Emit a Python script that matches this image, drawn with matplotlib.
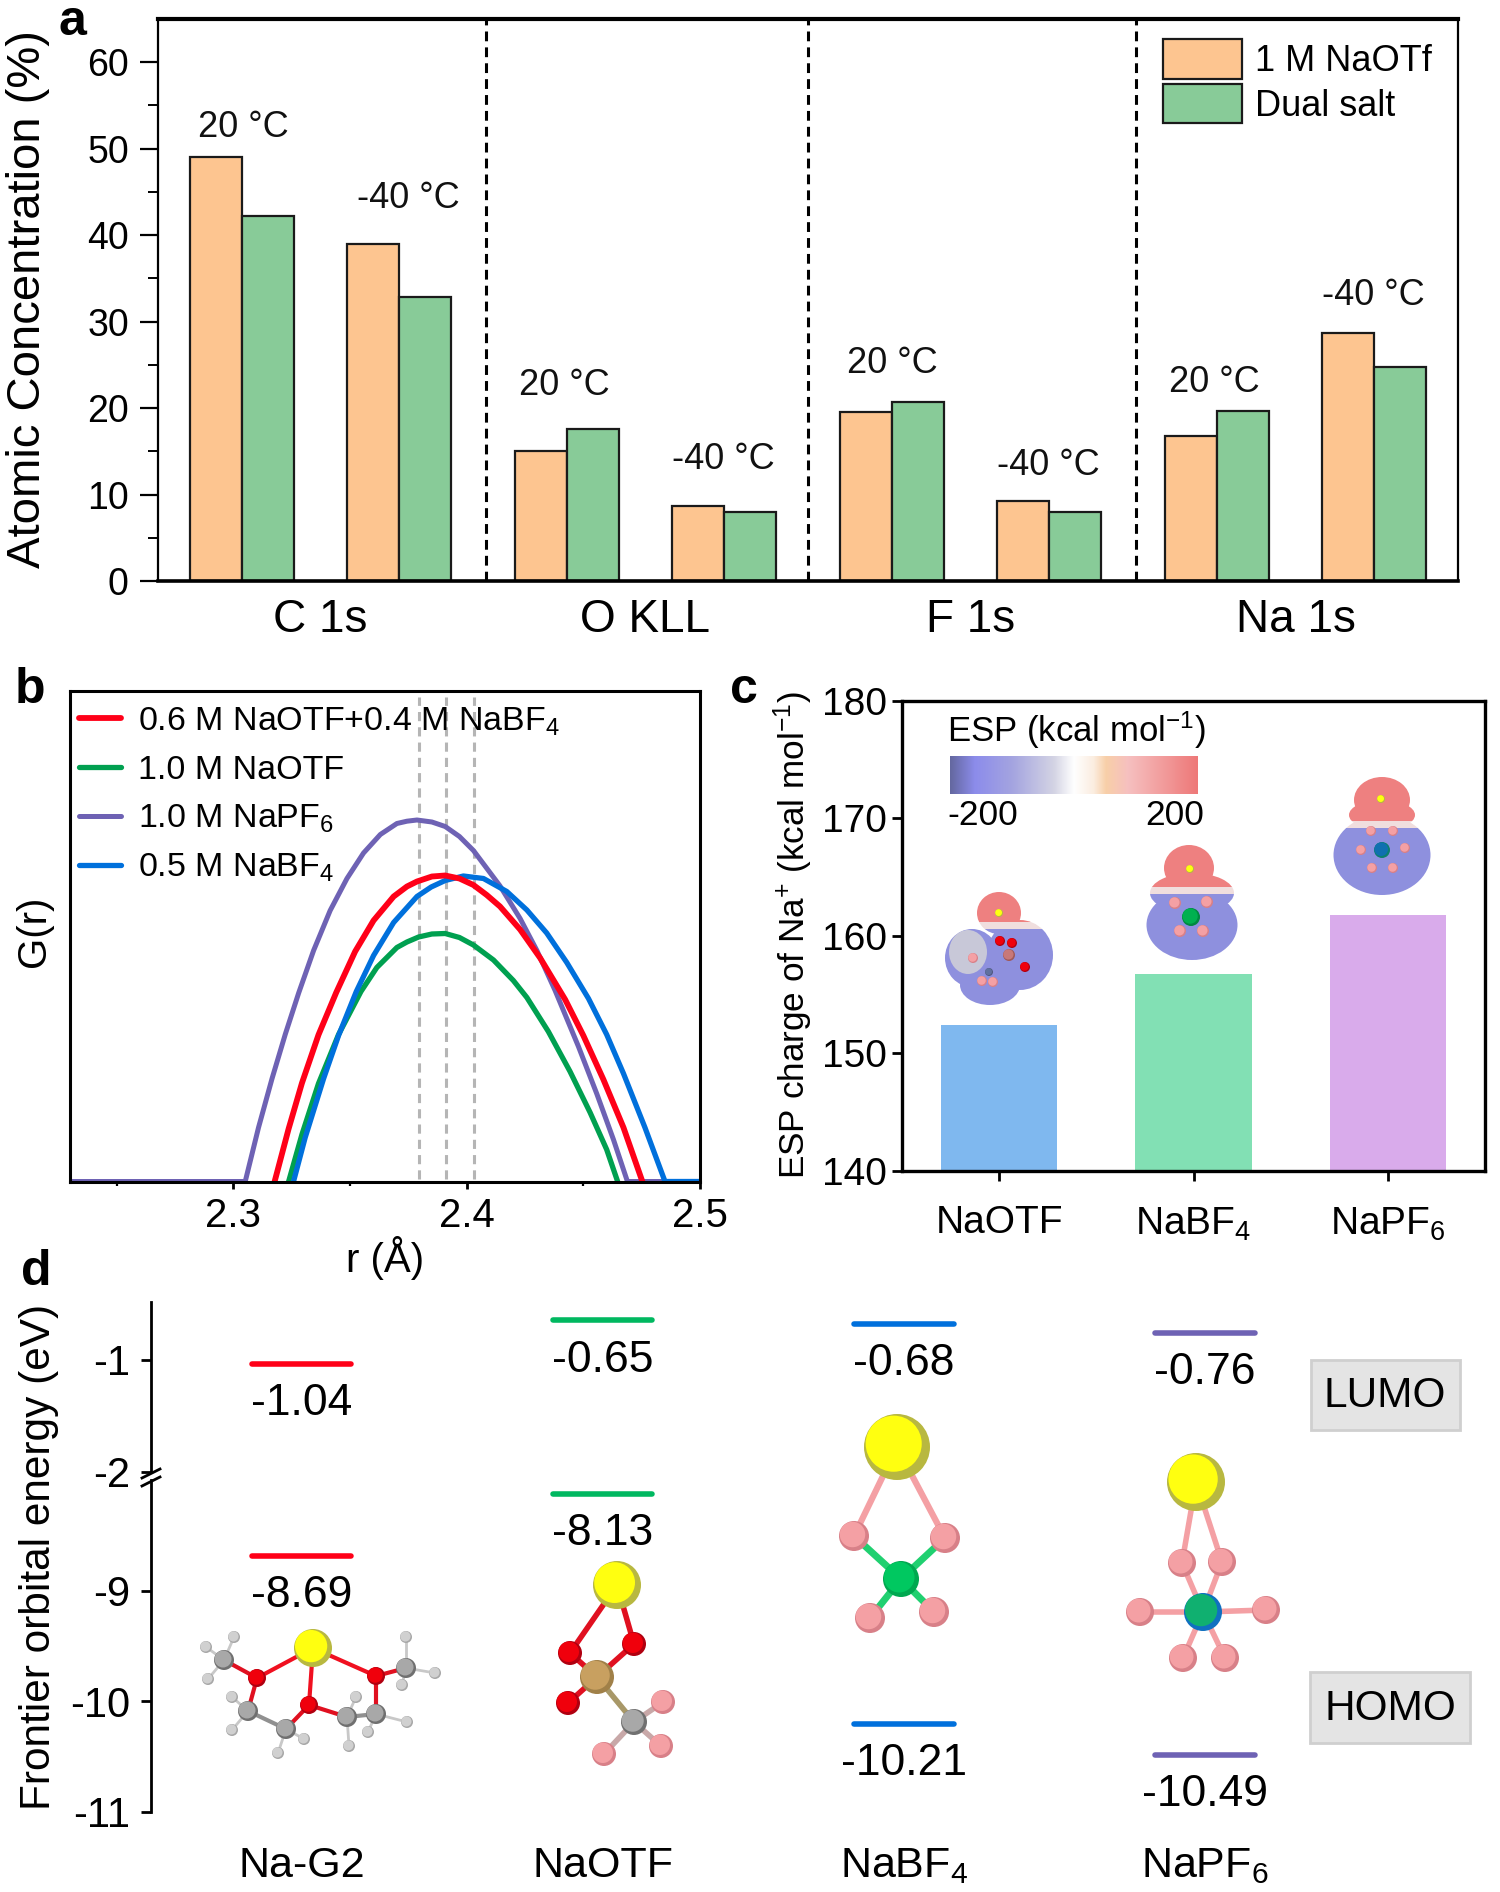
import matplotlib
matplotlib.use("Agg")
import matplotlib.pyplot as plt
import numpy as np
from matplotlib.colors import LinearSegmentedColormap
from matplotlib.patches import Circle, Ellipse, Patch, Rectangle

plt.rcParams['font.family'] = ['Liberation Sans', 'DejaVu Sans']
plt.rcParams['mathtext.fontset'] = 'custom'
plt.rcParams['mathtext.rm'] = 'Liberation Sans'
plt.rcParams['mathtext.default'] = 'regular'

# panel a
a_groups = ["C 1s", "O KLL", "F 1s", "Na 1s"]
a_nafotf = [49.0, 39.0, 15.0, 8.7, 19.5, 9.2, 16.8, 28.7]
a_dual = [42.2, 32.8, 17.6, 8.0, 20.7, 8.0, 19.7, 24.8]
a_temps = ["20 °C", "-40 °C"] * 4

# panel b
r_red = [2.3177, 2.3237, 2.3294, 2.3365, 2.3441, 2.3522, 2.3601, 2.3687, 2.3744, 2.3787, 2.3851, 2.3908, 2.3969, 2.4029, 2.4086, 2.4143, 2.4229, 2.4315, 2.4422, 2.45, 2.4586, 2.4672, 2.4753]
g_red = [0, 0.528, 0.984, 1.467, 1.89, 2.3, 2.61, 2.85, 2.95, 3.0, 3.05, 3.06, 3.03, 2.965, 2.865, 2.75, 2.52, 2.235, 1.82, 1.46, 1.02, 0.54, 0]
r_green = [2.3237, 2.3294, 2.3365, 2.3451, 2.3547, 2.3615, 2.3701, 2.3744, 2.3794, 2.3851, 2.3908, 2.3969, 2.4029, 2.4115, 2.42, 2.4258, 2.435, 2.4443, 2.4529, 2.46, 2.4647]
g_green = [0, 0.47, 0.98, 1.47, 1.9, 2.14, 2.34, 2.395, 2.445, 2.475, 2.48, 2.44, 2.365, 2.215, 2.01, 1.84, 1.5, 1.1, 0.69, 0.32, 0]
r_purple = [2.23, 2.3051, 2.3108, 2.3166, 2.3223, 2.328, 2.3344, 2.3415, 2.3487, 2.3558, 2.363, 2.3701, 2.3744, 2.3787, 2.3851, 2.3908, 2.3969, 2.4029, 2.4143, 2.4229, 2.4301, 2.4379, 2.4479, 2.4558, 2.4629, 2.4689, 2.5]
g_purple = [0, 0, 0.54, 1.03, 1.475, 1.885, 2.31, 2.71, 3.03, 3.285, 3.47, 3.58, 3.603, 3.615, 3.595, 3.55, 3.45, 3.31, 2.955, 2.63, 2.31, 1.91, 1.35, 0.875, 0.42, 0, 0]
r_blue = [2.3258, 2.3308, 2.3387, 2.3451, 2.3527, 2.3601, 2.3687, 2.3787, 2.3848, 2.3908, 2.3986, 2.4072, 2.4172, 2.4258, 2.4343, 2.4429, 2.4522, 2.46, 2.4672, 2.4764, 2.485, 2.5]
g_blue = [0, 0.44, 1.03, 1.46, 1.9, 2.26, 2.59, 2.85, 2.945, 3.01, 3.055, 3.03, 2.9, 2.715, 2.485, 2.19, 1.83, 1.47, 1.08, 0.54, 0, 0]
peak_r = [2.3795, 2.391, 2.403]

# panel c
c_salts = ["NaOTF", "NaBF$_4$", "NaPF$_6$"]
c_esp = [152.4, 156.7, 161.8]

# panel d
d_systems = ["Na-G2", "NaOTF", "NaBF$_4$", "NaPF$_6$"]
d_lumo = [-1.04, -0.65, -0.68, -0.76]
d_homo = [-8.69, -8.13, -10.21, -10.49]

W, H = 1500, 1892
fig = plt.figure(figsize=(W / 100, H / 100), dpi=100)


def px_axes(left, top, right, bottom):
    return fig.add_axes([left / W, 1 - bottom / H, (right - left) / W, (bottom - top) / H])


# ---------- a
ax = px_axes(158, 19, 1458, 581)
x_pos = []
for g in range(1, 5):
    x_pos += [g - 0.241, g + 0.241]
x_pos = np.array(x_pos)
bar_w = 0.16
ax.bar(x_pos - bar_w / 2, a_nafotf, bar_w, color='#FDC590', edgecolor='#1a1a1a', lw=1.6)
ax.bar(x_pos + bar_w / 2, a_dual, bar_w, color='#88CB98', edgecolor='#1a1a1a', lw=1.6)
for v in [1.51, 2.5, 3.51]:
    ax.axvline(v, color='black', ls=(0, (3.2, 2)), lw=2.2)
temp_y = [52.4, 44.2, 22.6, 14.1, 25.2, 13.4, 23.0, 33.0]
temp_dx = [0.005, 0.03, -0.01, 0, 0, 0, -0.01, 0]
for x, t, y, dx in zip(x_pos, a_temps, temp_y, temp_dx):
    ax.text(x + dx, y, t, fontsize=26, ha='center', va='center', color='#111111')
ax.set_xlim(0.5, 4.5)
ax.set_ylim(0, 65)
ax.set_yticks(range(0, 61, 10))
ax.set_yticks(range(5, 60, 10), minor=True)
ax.set_xticks(range(1, 5))
ax.set_xticklabels(a_groups, fontsize=33)
ax.tick_params(axis='x', length=0, pad=12)
ax.tick_params(axis='y', which='major', length=13, width=1.6, labelsize=27, pad=8)
ax.tick_params(axis='y', which='minor', length=7, width=1.4)
for s in ax.spines.values():
    s.set_linewidth(1.6)
ax.spines['top'].set_linewidth(3)
ax.spines['bottom'].set_linewidth(2.6)
handles = [Patch(facecolor='#FDC590', edgecolor='#1a1a1a', lw=1.6),
           Patch(facecolor='#88CB98', edgecolor='#1a1a1a', lw=1.6)]
ax.legend(handles, ["1 M NaOTf", "Dual salt"], loc='upper left', bbox_to_anchor=(0.773, 0.964),
          frameon=False, fontsize=26, borderpad=0, borderaxespad=0, handlelength=2.2,
          handleheight=1.3, labelspacing=0.14, handletextpad=0.35)

# ---------- b
ax = px_axes(70, 691.5, 700, 1181.5)
ax.vlines(peak_r, 0.03, 4.84, color='#b5b5b5', ls=(0, (3, 2)), lw=2.2, zorder=1)
ax.plot(r_green, g_green, color='#00A050', lw=3.8, zorder=2, solid_capstyle='round', label="1.0 M NaOTF")
ax.plot(r_purple, g_purple, color='#6E62B4', lw=3.6, zorder=2.1, solid_capstyle='round', label="1.0 M NaPF$_6$")
ax.plot(r_blue, g_blue, color='#0070DC', lw=3.8, zorder=2.2, solid_capstyle='round', label="0.5 M NaBF$_4$")
ax.plot(r_red, g_red, color='#FF0018', lw=4.2, zorder=2.3, solid_capstyle='round', label="0.6 M NaOTF+0.4 M NaBF$_4$")
ax.set_xlim(2.23, 2.5)
ax.set_ylim(0, 4.9)
ax.set_yticks([])
ax.set_xticks([2.3, 2.4, 2.5])
ax.set_xticks([2.25, 2.35, 2.45], minor=True)
ax.tick_params(axis='x', which='major', length=5, width=2, labelsize=29, pad=6)
ax.tick_params(axis='x', which='minor', length=3, width=1.6)
for s in ax.spines.values():
    s.set_linewidth(2.2)
ax.set_xlabel("r (Å)", fontsize=29, labelpad=1)
h, l = ax.get_legend_handles_labels()
order = [3, 0, 1, 2]
ax.legend([h[i] for i in order], [l[i] for i in order], loc='upper left', bbox_to_anchor=(0.014, 0.972),
          frameon=False, fontsize=24.5, borderpad=0, borderaxespad=0, handlelength=1.24,
          labelspacing=0.5, handletextpad=0.5)

# ---------- c
ax = px_axes(902, 701, 1485, 1170.5)
ax.bar([1, 2, 3], c_esp, 0.6, color=['#7FB8EF', '#82E0B4', '#D9ABEB'], zorder=2)
ax.set_xlim(0.5, 3.5)
ax.set_ylim(140, 180)
ax.set_yticks(range(140, 181, 10))
ax.set_xticks([1, 2, 3])
ax.set_xticklabels(c_salts)
ax.tick_params(axis='y', length=7, width=2, labelsize=28, pad=4)
ax.tick_params(axis='x', length=7, width=2, labelsize=28, pad=18)
for s in ax.spines.values():
    s.set_linewidth(2.4)

# ---------- d
up = px_axes(151, 1301.5, 1480, 1471.7)
lo = px_axes(151, 1480, 1480, 1811.6)
colors = ['#FF0018', '#00B860', '#0070DC', '#6E62B4']
for a_, vals in ((up, d_lumo), (lo, d_homo)):
    a_.set_xlim(0.5, 4.913)
    a_.hlines(vals, np.arange(1, 5) - 0.165, np.arange(1, 5) + 0.165, colors=colors, lw=4, capstyle='round')
    for i, v in enumerate(vals):
        a_.annotate(f"{v:.2f}", xy=(i + 1, v), xytext=(0, -28.5), textcoords='offset points',
                    ha='center', va='center', fontsize=32, annotation_clip=False)
    a_.patch.set_alpha(0)
    for k in ('top', 'right', 'bottom'):
        a_.spines[k].set_visible(False)
    a_.spines['left'].set_linewidth(2)
    a_.tick_params(axis='y', length=7, width=2, labelsize=30, pad=8)
up.set_ylim(-2, -0.481)
up.set_yticks([-1, -2])
up.set_yticklabels(["-1", "-2"])
up.set_xticks([])
lo.set_ylim(-11, -8)
lo.set_yticks([-9, -10, -11])
lo.set_yticklabels(["-9", "-10", "-11"])
lo.set_xticks([1, 2, 3, 4])
lo.set_xticklabels(d_systems, fontsize=31)
lo.tick_params(axis='x', length=0, pad=25)

# ---------- overlay in image pixels: letters, axis titles, colour scale, molecules
ov = fig.add_axes([0, 0, 1, 1])
ov.set_xlim(0, W)
ov.set_ylim(H, 0)
ov.axis('off')
ov.patch.set_alpha(0)

for txt, x, y in (("a", 72, 22), ("b", 30, 690), ("c", 744, 690), ("d", 36, 1272)):
    ov.text(x, y, txt, fontsize=36, fontweight='bold', ha='center', va='center')
ov.text(28, 299, "Atomic Concentration (%)", fontsize=34, rotation=90, ha='center', va='center')
ov.text(34, 931, "G(r)", fontsize=29, rotation=90, ha='center', va='center')
ov.text(793, 935, "ESP charge of Na$^{+}$ (kcal mol$^{-1}$)", fontsize=25.3, rotation=90, ha='center', va='center')
ov.text(39, 1557, "Frontier orbital energy (eV)", fontsize=30.5, rotation=90, ha='center', va='center')

ov.plot([142, 160], [1478, 1469], color='black', lw=2)
ov.plot([142, 160], [1486, 1477], color='black', lw=2)

for txt, x0, x1, y0, y1, cx in (("LUMO", 1311, 1460, 1360, 1430, 1385),
                                ("HOMO", 1310, 1470, 1672, 1743, 1390)):
    ov.add_patch(Rectangle((x0, y0), x1 - x0, y1 - y0, facecolor='#E4E4E4', edgecolor='#CFCFCF', lw=2))
    ov.text(cx, (y0 + y1) / 2 + 1, txt, fontsize=30.5, ha='center', va='center')

esp_cmap = LinearSegmentedColormap.from_list('esp', [
    (0, '#6468A0'), (0.1, '#8C8CEB'), (0.25, '#A4A4E0'), (0.42, '#D4D4E4'), (0.5, '#FFFFFF'),
    (0.58, '#FBEDE0'), (0.63, '#F8CFA8'), (0.72, '#F6C0C0'), (1, '#EE7878')])
ov.imshow(np.linspace(0, 1, 256).reshape(1, -1), cmap=esp_cmap, extent=(950, 1198, 794, 756), aspect='auto')
ov.set_xlim(0, W)
ov.set_ylim(H, 0)
ov.text(1076, 730, "ESP (kcal mol$^{-1}$)", fontsize=25, ha='center', va='center')
ov.text(983, 815, "-200", fontsize=25.5, ha='center', va='center')
ov.text(1175, 815, "200", fontsize=25.5, ha='center', va='center')


def surface(shapes, split, blue='#8E90DE'):
    # same outline three times, clipped to the red part, a pale seam and the blue part
    bands = (('#EE8080', 700, split - 3), ('#F0DEDE', split - 3, split + 4), (blue, split + 4, 1100))
    for col, y0, y1 in bands:
        clip = Rectangle((850, y0), 650, y1 - y0, transform=ov.transData)
        for cx, cy, w, h in shapes:
            e = Ellipse((cx, cy), w, h, facecolor=col, edgecolor='none', zorder=1.5)
            ov.add_patch(e)
            e.set_clip_path(clip)


def bonds(pairs, col='#E89A9A', lw=3):
    for (x0, y0), (x1, y1) in pairs:
        ov.plot([x0, x1], [y0, y1], color=col, lw=lw, solid_capstyle='round', zorder=2)


def balls(items, col, edge):
    for cx, cy, r in items:
        ov.add_patch(Circle((cx, cy), r, facecolor=edge, edgecolor='none', zorder=3))
        ov.add_patch(Circle((cx - r * 0.1, cy - r * 0.1), r * 0.85, facecolor=col, edgecolor='none', zorder=3))


YEL, YELD = '#FFFF10', '#B8B840'
PINK, PINKD = '#F4A0A4', '#D88088'
RED, REDD = '#F0000C', '#B00010'
GRAY, GRAYD = '#A8A8A8', '#707070'

# ESP surfaces in panel c
surface([(999, 913, 44, 42), (972, 958, 54, 58), (1020, 955, 66, 70), (990, 985, 60, 40)], 925)
ov.add_patch(Ellipse((968, 952), 38, 44, facecolor='#C8C8D8', edgecolor='none', zorder=1.6))
balls([(1000, 941, 5), (1012, 943, 5), (1025, 967, 5)], RED, REDD)
balls([(1009, 955, 6)], '#C87878', '#A05858')
balls([(973, 958, 5), (982, 981, 5), (993, 982, 5)], PINK, PINKD)
balls([(989, 972, 4)], '#6070A0', '#505880')
balls([(999, 913, 4)], YEL, YELD)

surface([(1189, 868, 50, 46), (1192, 893, 84, 40), (1192, 925, 91, 70)], 890)
balls([(1175, 903, 6), (1207, 902, 6), (1180, 931, 6), (1203, 931, 6)], PINK, PINKD)
balls([(1191, 917, 9)], '#00B050', '#008840')
balls([(1190, 869, 4)], YEL, YELD)

surface([(1382, 800, 56, 46), (1382, 815, 66, 30), (1382, 855, 97, 80)], 824)
balls([(1371, 831, 5), (1393, 831, 5), (1361, 850, 5), (1405, 848, 5), (1372, 868, 5), (1393, 868, 5)], PINK, PINKD)
balls([(1382, 850, 8)], '#1070B0', '#0C8070')
balls([(1381, 799, 4)], YEL, YELD)

# Na-G2
na = (313, 1648)
o = [(257, 1678), (309, 1705), (376, 1676)]
c = [(224, 1660), (248, 1711), (286, 1729), (347, 1717), (376, 1714), (406, 1668)]
hyd = [(206, 1647), (234, 1637), (208, 1679), (232, 1697), (232, 1730), (278, 1753), (304, 1739),
       (356, 1697), (349, 1746), (368, 1732), (407, 1722), (406, 1637), (435, 1673), (402, 1685)]
ch = [(0, 0), (0, 1), (0, 2), (1, 3), (1, 4), (2, 5), (2, 6), (3, 7), (3, 8), (4, 9), (4, 10), (5, 11), (5, 12), (5, 13)]
bonds([(c[i], hyd[j]) for i, j in ch], '#C8C8C8', 2)
bonds([(c[1], c[2]), (c[3], c[4])], '#909090', 3)
bonds([(o[0], c[0]), (o[0], c[1]), (o[1], c[2]), (o[1], c[3]), (o[2], c[4]), (o[2], c[5])], '#E01020', 3)
bonds([(na, p) for p in o], '#F01020', 3)
balls([(x, y, 6) for x, y in hyd], '#D0D0D0', '#A8A8A8')
balls([(x, y, 10) for x, y in c], GRAY, GRAYD)
balls([(x, y, 9) for x, y in o], RED, REDD)
balls([(na[0], na[1], 19)], YEL, YELD)

# NaOTF
na = (617, 1585)
o = [(570, 1653), (634, 1644), (568, 1703)]
s_ = (597, 1677)
c0 = (634, 1722)
f = [(663, 1702), (661, 1746), (604, 1754)]
bonds([(na, o[0]), (na, o[1]), (o[0], s_), (o[1], s_), (o[2], s_)], '#E01020', 4)
bonds([(s_, c0)], '#A89868', 4)
bonds([(c0, p) for p in f], '#C8A8A8', 4)
balls([(x, y, 12) for x, y in o], RED, REDD)
balls([(s_[0], s_[1], 17)], '#C8A060', '#A08048')
balls([(c0[0], c0[1], 13)], GRAY, GRAYD)
balls([(x, y, 12) for x, y in f], PINK, PINKD)
balls([(na[0], na[1], 24)], YEL, YELD)

# NaBF4
na = (897, 1447)
f = [(854, 1536), (945, 1538), (870, 1618), (934, 1612)]
b_ = (901, 1579)
bonds([(na, f[0]), (na, f[1])], PINK, 4.5)
bonds([(b_, p) for p in f], '#20D070', 5)
balls([(x, y, 15) for x, y in f], PINK, PINKD)
balls([(b_[0], b_[1], 18)], '#00C860', '#00A850')
balls([(na[0], na[1], 33)], YEL, YELD)

# NaPF6
na = (1196, 1482)
f = [(1182, 1563), (1222, 1562), (1140, 1612), (1266, 1610), (1183, 1658), (1225, 1658)]
p_ = (1203, 1612)
bonds([(na, f[0]), (na, f[1])], PINK, 4)
bonds([(p_, p) for p in f], PINK, 4)
balls([(x, y, 14) for x, y in f], PINK, PINKD)
balls([(p_[0], p_[1], 19)], '#10B070', '#1070C0')
balls([(na[0], na[1], 29)], YEL, YELD)

fig.savefig("out.png", dpi=100)
